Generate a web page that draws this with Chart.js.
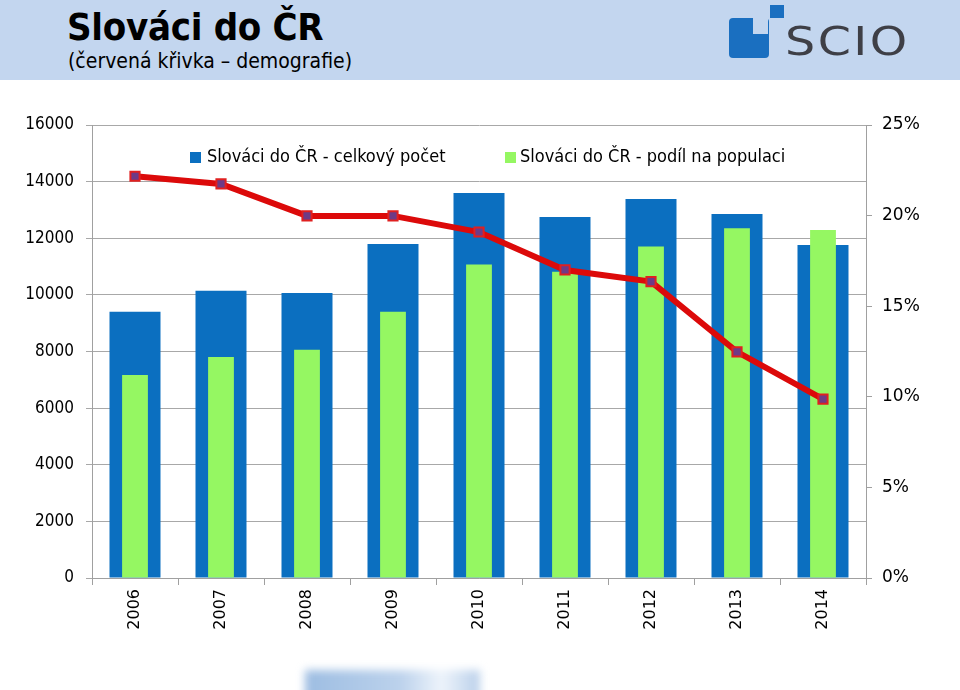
<!DOCTYPE html>
<html>
<head>
<meta charset="utf-8">
<script src="https://cdn.jsdelivr.net/npm/chart.js@4.4.1/dist/chart.umd.min.js"></script>
<style>
  html, body { margin:0; padding:0; background:#fff; }
  #wrap { position:relative; width:960px; height:690px; overflow:hidden; background:#fff; font-family:'DejaVu Sans Condensed','DejaVu Sans',sans-serif; }
  #header { position:absolute; left:0; top:0; width:960px; height:80px; background:#c3d6ef; }
  #title { position:absolute; left:67px; top:5px; font-size:38px; font-weight:bold; color:#000; letter-spacing:-0.3px; }
  #subtitle { position:absolute; left:68px; top:49px; font-size:21px; color:#000; }
  .sq { position:absolute; }
  #logoText { position:absolute; left:785px; top:19px; font-family:'DejaVu Sans','Liberation Sans',sans-serif; font-size:39px; color:#3e3f46; letter-spacing:2px; transform:scaleX(1.22); transform-origin:left; }
  #chartBox { position:absolute; left:0; top:0; width:960px; height:690px; }
  .leg { position:absolute; font-size:18px; color:#000; white-space:nowrap; }
  .legsq { position:absolute; width:11px; height:11px; }
  #blob { position:absolute; left:305px; top:670px; width:175px; height:30px; background:linear-gradient(90deg,#9dbde2,#bcd2ec 55%,#eef4fb 78%,#b9cfea); filter:blur(4px); }
</style>
</head>
<body>
<div id="wrap">
  <div id="header">
    <div id="title">Slováci do ČR</div>
    <div id="subtitle">(červená křivka – demografie)</div>
    <div class="sq" style="left:729px;top:18px;width:40px;height:40px;background:#1a6fc0;border-radius:4px;"></div>
    <div class="sq" style="left:753px;top:18px;width:15px;height:16px;background:#c3d6ef;"></div>
    <div class="sq" style="left:770px;top:5px;width:14px;height:13px;background:#1a6fc0;"></div>
    <div id="logoText">SCIO</div>
  </div>
  <div id="blob"></div>
  <div id="chartBox"><canvas id="c" width="960" height="690"></canvas></div>
  <div class="legsq" style="left:190px;top:152px;background:#0b6fc0;"></div>
  <div class="leg" id="leg1" style="left:207px;top:145px;">Slováci do ČR - celkový počet</div>
  <div class="legsq" style="left:505px;top:152px;background:#95f762;"></div>
  <div class="leg" id="leg2" style="left:520px;top:145px;">Slováci do ČR - podíl na populaci</div>
</div>
<script>
const years = ['2006','2007','2008','2009','2010','2011','2012','2013','2014'];
const totalCount = [9400, 10150, 10070, 11800, 13600, 12750, 13390, 12860, 11760];
const populationShare = [11.2, 12.2, 12.6, 14.7, 17.3, 16.9, 18.3, 19.3, 19.2];
const demography = [14190, 13920, 12790, 12790, 12220, 10880, 10470, 7990, 6320];
const seriesNames = ['Slováci do ČR - celkový počet', 'Slováci do ČR - podíl na populaci', 'demografie'];

const leftFont = { family: "'DejaVu Sans Condensed','DejaVu Sans',sans-serif", size: 17 };
const rightFont = { family: "'DejaVu Sans',sans-serif", size: 17 };

new Chart(document.getElementById('c'), {
  data: {
    labels: years,
    datasets: [
      {
        type: 'line', label: seriesNames[2], data: demography, yAxisID: 'y', order: 0,
        borderColor: '#dc0a0a', borderWidth: 6, tension: 0,
        pointStyle: 'rect', pointRadius: 6.5, pointBackgroundColor: '#6e3a86',
        pointBorderColor: '#e02020', pointBorderWidth: 2
      },
      {
        type: 'bar', label: seriesNames[1], data: populationShare, yAxisID: 'y1', order: 1,
        backgroundColor: '#95f762', grouped: false, categoryPercentage: 1, barPercentage: 0.30
      },
      {
        type: 'bar', label: seriesNames[0], data: totalCount, yAxisID: 'y', order: 2,
        backgroundColor: '#0b6fc0', grouped: false, categoryPercentage: 1, barPercentage: 0.593
      }
    ]
  },
  options: {
    responsive: false,
    animation: false,
    layout: { padding: { top: 125, left: 0, right: 0, bottom: 40 } },
    plugins: { legend: { display: false }, title: { display: false }, tooltip: { enabled: false } },
    scales: {
      x: {
        offset: true,
        grid: { offset: true, drawOnChartArea: false, color: '#a0a0a0', tickLength: 7 },
        border: { color: '#a0a0a0' },
        ticks: { font: { family: "'DejaVu Sans',sans-serif", size: 16 }, color: '#000', minRotation: 90, maxRotation: 90, padding: 4 },
        afterFit: s => { s.height = 72; }
      },
      y: {
        position: 'left', min: 0, max: 16000,
        ticks: { stepSize: 2000, font: leftFont, color: '#000', padding: 12, callback: v => String(v) },
        grid: { color: '#a8a8a8', tickLength: 6 },
        border: { color: '#a0a0a0' },
        afterFit: s => { s.width = 92; }
      },
      y1: {
        position: 'right', min: 0, max: 25,
        ticks: { stepSize: 5, font: rightFont, color: '#000', padding: 10, callback: v => v + '%' },
        grid: { drawOnChartArea: false, color: '#a0a0a0', tickLength: 6 },
        border: { color: '#a0a0a0' },
        afterFit: s => { s.width = 94; }
      }
    }
  }
});
</script>
</body>
</html>
